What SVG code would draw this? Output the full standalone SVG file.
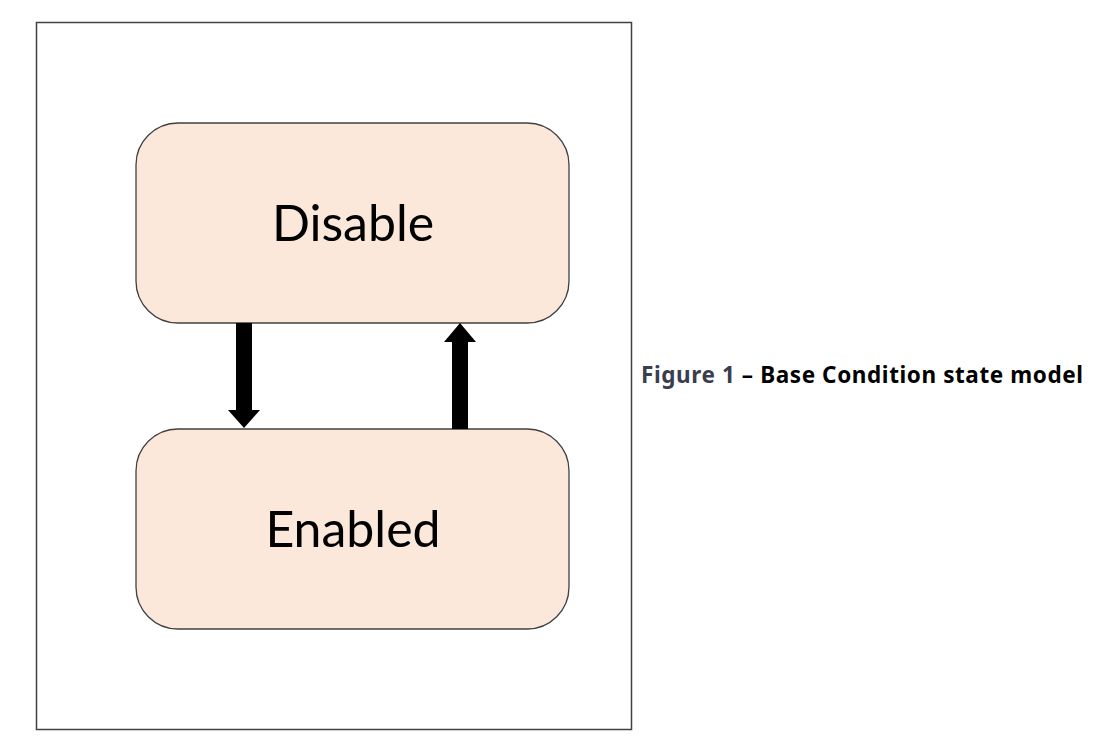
<svg xmlns="http://www.w3.org/2000/svg" width="1104" height="749" viewBox="0 0 1104 749">
<style>
.state{fill:#fbe8db;stroke:#404040;stroke-width:1.3}
.lbl{font-family:Lato,"Open Sans",sans-serif;font-size:50px;fill:#000;text-anchor:middle}
.cap{font-family:"Noto Sans","Open Sans",sans-serif;font-size:22.5px;font-weight:bold}
</style>
<rect width="1104" height="749" fill="#fff"/>
<rect x="36.5" y="22.5" width="595" height="707" fill="#fff" stroke="#404040" stroke-width="1.5"/>
<g id="disable">
<rect class="state" x="136" y="123" width="433" height="200" rx="42" ry="42"/>
<text class="lbl" x="353" y="241">Disable</text>
</g>
<g id="enabled">
<rect class="state" x="136" y="429" width="433" height="200" rx="42" ry="42"/>
<text class="lbl" x="353" y="547">Enabled</text>
</g>
<g id="connectors" fill="#000">
<polygon points="236,323 252,323 252,410 260,410 244,428 228,410 236,410"/>
<polygon points="452,429 468,429 468,342 476,342 460,323 444,342 452,342"/>
</g>
<g id="caption">
<text class="cap" x="641" y="383" textLength="442" lengthAdjust="spacing"><tspan fill="#3a3d4f">Figure 1</tspan><tspan fill="#000"> – Base Condition state model</tspan></text>
</g>
</svg>
